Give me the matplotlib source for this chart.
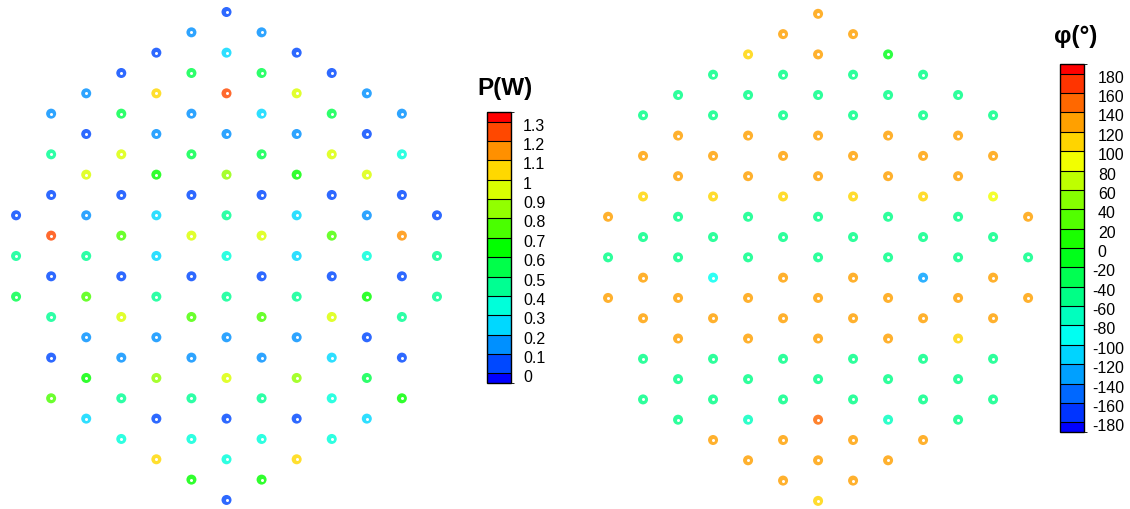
# Import Libraries
import numpy as np
import matplotlib
matplotlib.use('Agg')
import matplotlib.pyplot as plt
from matplotlib.colors import LinearSegmentedColormap, ListedColormap, BoundaryNorm
from matplotlib.transforms import ScaledTranslation

plt.rcParams['font.family'] = ['Liberation Sans', 'DejaVu Sans']
plt.rcParams['axes.unicode_minus'] = False

# first column of each row of the hexagonal array (columns step by 2)
row_start = [6, 5, 4, 3, 2, 1, 2, 1, 2, 1, 0, 1, 0, 1, 0, 1, 2, 1, 2, 1, 2, 3, 4, 5, 6]

# power of every element, row by row (W)
power_rows = [
    [0.05],
    [0.15, 0.15],
    [0.05, 0.25, 0.05],
    [0.05, 0.55, 0.55, 0.05],
    [0.15, 1.05, 1.25, 0.95, 0.15],
    [0.15, 0.55, 0.15, 0.25, 0.55, 0.15],
    [0.05, 0.15, 0.15, 0.15, 0.05],
    [0.45, 0.95, 0.55, 0.55, 0.95, 0.35],
    [0.95, 0.65, 0.85, 0.65, 0.95],
    [0.05, 0.05, 0.05, 0.05, 0.05, 0.05],
    [0.05, 0.15, 0.25, 0.45, 0.25, 0.15, 0.05],
    [1.25, 0.75, 0.95, 0.95, 0.75, 1.15],
    [0.45, 0.45, 0.25, 0.35, 0.25, 0.35, 0.45],
    [0.05, 0.05, 0.05, 0.05, 0.05, 0.05],
    [0.55, 0.75, 0.45, 0.45, 0.45, 0.65, 0.45],
    [0.45, 0.95, 0.75, 0.75, 0.95, 0.45],
    [0.15, 0.15, 0.15, 0.15, 0.05],
    [0.05, 0.15, 0.15, 0.15, 0.25, 0.05],
    [0.65, 0.85, 0.95, 0.85, 0.55],
    [0.75, 0.45, 0.45, 0.45, 0.35, 0.65],
    [0.25, 0.05, 0.05, 0.05, 0.25],
    [0.35, 0.35, 0.35, 0.35],
    [1.05, 0.35, 1.05],
    [0.65, 0.65],
    [0.05],
]

# phase of every element, row by row (degrees)
phase_rows = [
    [130],
    [130, 130],
    [110, 130, -10],
    [-50, -50, -50, -50],
    [-50, -50, -50, -50, -50],
    [-50, -50, -50, -50, -50, -50],
    [130, 130, 130, 130, 130],
    [130, 130, 130, 130, 130, 130],
    [130, 130, 130, 130, 130],
    [110, 110, 110, 110, 110, 90],
    [130, -50, -50, -50, -50, -50, 130],
    [-50, -50, -50, -50, -50, -50],
    [-50, -50, -50, -50, -50, -50, -50],
    [130, -90, 130, 130, -130, 130],
    [130, 130, 130, 130, 130, 130, 130],
    [130, 130, 130, 130, 130, 130],
    [130, 130, 130, 130, 110],
    [-50, -50, -50, -50, -50, -50],
    [-50, -50, -50, -50, -50],
    [-50, -50, -50, -50, -50, -50],
    [-50, -70, 150, -70, -50],
    [130, 130, 130, 130],
    [130, 130, 130],
    [130, 130],
    [110],
]

power_levels = [0, 0.1, 0.2, 0.3, 0.4, 0.5, 0.6, 0.7, 0.8, 0.9, 1, 1.1, 1.2, 1.3]
power_labels = ['0', '0.1', '0.2', '0.3', '0.4', '0.5', '0.6', '0.7', '0.8', '0.9', '1', '1.1', '1.2', '1.3']
phase_levels = [-180, -160, -140, -120, -100, -80, -60, -40, -20, 0, 20, 40, 60, 80, 100, 120, 140, 160, 180]


# Turn row lists into x, y, value arrays
def flatten(rows):
    xs, ys, vs = [], [], []
    for r, vals in enumerate(rows):
        for i, v in enumerate(vals):
            xs.append(row_start[r] + 2 * i)
            ys.append(r)
            vs.append(v)
    return np.array(xs), np.array(ys), np.array(vs)


# rainbow map cut into bands, half bands at both ends
rainbow = LinearSegmentedColormap.from_list('rainbow5', ['#0000ff', '#00ffff', '#00ff00', '#ffff00', '#ff0000'])


def banded(levels):
    step = levels[1] - levels[0]
    bounds = [levels[0] - step / 2] + list(levels) + [levels[-1] + step / 2]
    n = len(bounds) - 1
    cmap = ListedColormap(rainbow(np.linspace(0, 1, n)))
    return cmap, BoundaryNorm(bounds, n), bounds


fig = plt.figure(figsize=(11.30, 5.09), dpi=100)


def draw_panel(rect, rows, levels, cax_rect, pad, title, title_xy, ticklabels=None):
    ax = fig.add_axes(rect)
    x, y, v = flatten(rows)
    cmap, norm, bounds = banded(levels)
    # markers look a little washed out in the original
    rgba = cmap(norm(v))
    rgba[:, :3] = rgba[:, :3] * 0.82 + 0.18
    ax.scatter(x, y, c=rgba, s=52, linewidths=0)
    ax.scatter(x, y, c='white', s=4.7, linewidths=0)
    ax.set_xlim(-0.4, 12.4)
    ax.set_ylim(24.4, -0.4)
    ax.axis('off')

    cax = fig.add_axes(cax_rect)
    sm = plt.cm.ScalarMappable(norm=norm, cmap=cmap)
    cb = fig.colorbar(sm, cax=cax, boundaries=bounds, spacing='proportional',
                      ticks=levels, drawedges=True)
    cb.outline.set_linewidth(1.0)
    cb.dividers.set_linewidth(0.8)
    cax.tick_params(length=0, pad=pad, labelsize=11.5)
    if ticklabels is not None:
        cb.set_ticklabels(ticklabels)
    # labels sit a bit below the band edges, minus signs hang out to the left
    for lab, lev in zip(cax.get_yticklabels(), levels):
        dx = -5.5 / 100 if lev < 0 else 0
        lab.set_transform(lab.get_transform() + ScaledTranslation(dx, -3 / 100, fig.dpi_scale_trans))
    fig.text(title_xy[0], title_xy[1], title, fontsize=17.5, fontweight='bold',
             ha='center', va='center')


# Left panel: power
draw_panel([0.0018, 0.0018, 0.3973, 0.9906], power_rows, power_levels,
           [0.431, 0.2475, 0.0212, 0.5324], 8.6, 'P(W)', (505 / 1130, 1 - 88 / 509), power_labels)

# Right panel: phase
draw_panel([0.5257, 0.0, 0.3965, 0.9888], phase_rows, phase_levels,
           [0.938, 0.1513, 0.0212, 0.723], 10, 'φ(°)', (1076 / 1130, 1 - 37 / 509))

fig.savefig('out.png', dpi=100)
